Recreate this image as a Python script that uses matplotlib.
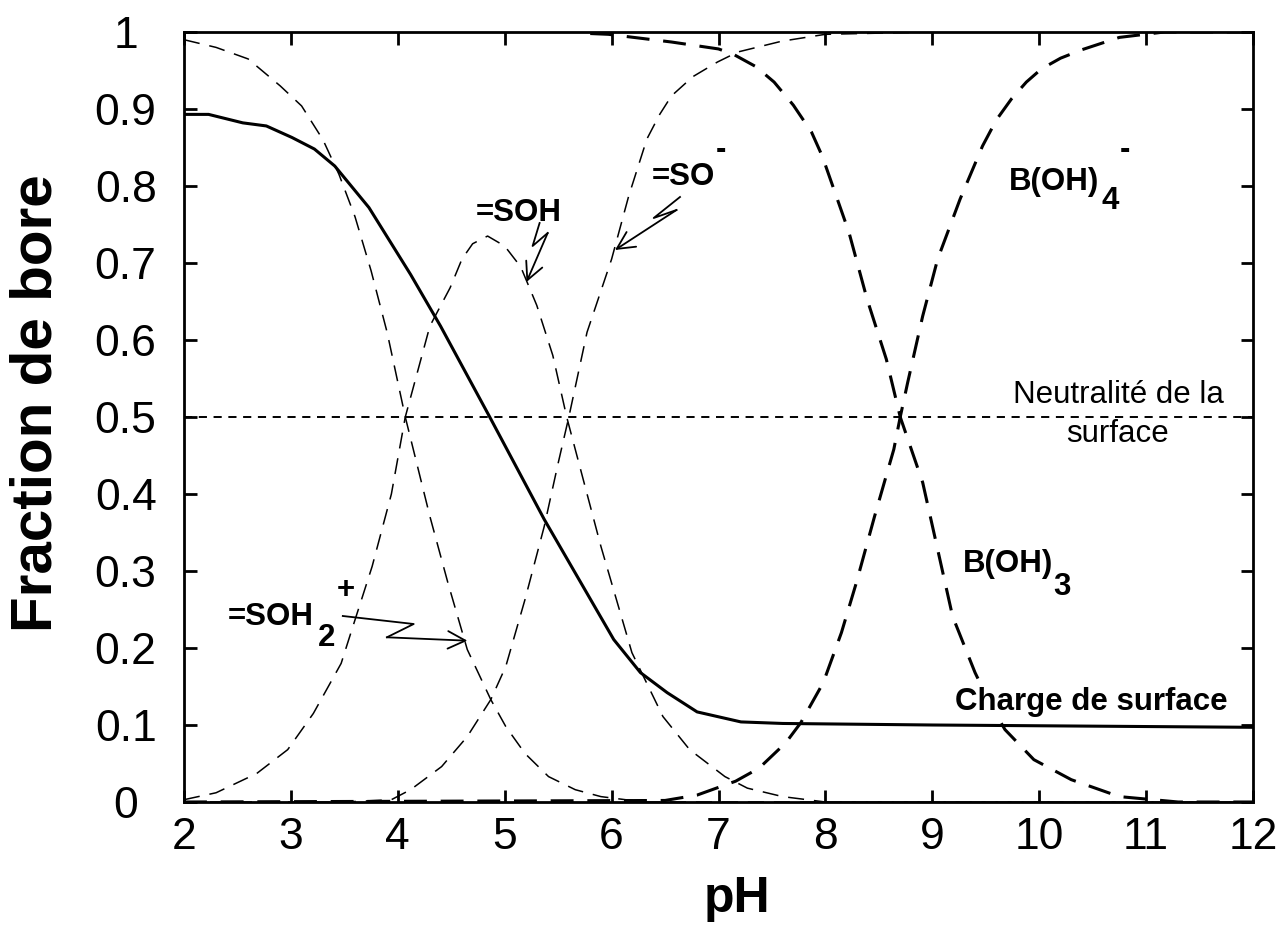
import matplotlib
matplotlib.use("Agg")
import matplotlib.pyplot as plt
from matplotlib.lines import Line2D
from matplotlib.patches import FancyArrowPatch

plt.rcParams['font.family'] = ['Liberation Sans', 'DejaVu Sans']

# ---------------- data ----------------
ph_soh2 = [2.0, 2.3, 2.6, 2.9, 3.1, 3.3, 3.45, 3.6, 3.75, 3.9, 4.07, 4.3, 4.47,
           4.65, 4.87, 5.01, 5.19, 5.41, 5.66, 5.9, 6.3, 7.0, 12.0]
soh2 = [0.99, 0.98, 0.965, 0.93, 0.904, 0.86, 0.815, 0.76, 0.69, 0.61, 0.50, 0.371,
        0.284, 0.198, 0.133, 0.098, 0.063, 0.033, 0.016, 0.007, 0.0, 0.0, 0.0]

ph_soh = [2.0, 2.3, 2.68, 2.97, 3.21, 3.47, 3.58, 3.76, 3.94, 4.07, 4.3, 4.49, 4.6,
          4.7, 4.84, 5.0, 5.15, 5.3, 5.45, 5.58, 5.9, 6.19, 6.48, 6.73, 7.06, 7.27,
          7.6, 8.0, 12.0]
soh = [0.003, 0.012, 0.037, 0.068, 0.115, 0.18, 0.228, 0.306, 0.40, 0.50, 0.618,
       0.668, 0.705, 0.725, 0.735, 0.722, 0.695, 0.645, 0.58, 0.50, 0.332, 0.194,
       0.111, 0.068, 0.033, 0.018, 0.007, 0.0, 0.0]

ph_so = [2.0, 3.5, 3.94, 4.12, 4.41, 4.65, 4.87, 5.01, 5.19, 5.37, 5.5, 5.6, 5.77,
         6.0, 6.16, 6.33, 6.45, 6.56, 6.76, 6.99, 7.18, 7.59, 8.0, 9.0, 12.0]
so = [0.0, 0.0, 0.003, 0.016, 0.046, 0.085, 0.133, 0.176, 0.263, 0.358, 0.44, 0.50,
      0.61, 0.705, 0.787, 0.861, 0.893, 0.917, 0.942, 0.961, 0.974, 0.988, 0.997,
      1.0, 1.0]

ph_boh3 = [5.8, 5.97, 6.56, 7.0, 7.14, 7.35, 7.52, 7.7, 7.87, 7.97, 8.22, 8.39,
           8.57, 8.70, 8.91, 9.05, 9.19, 9.40, 9.55, 9.68, 9.95, 10.30, 10.75,
           11.3, 12.0]
boh3 = [0.998, 0.997, 0.987, 0.978, 0.971, 0.955, 0.935, 0.905, 0.87, 0.839, 0.74,
        0.653, 0.575, 0.50, 0.415, 0.328, 0.241, 0.168, 0.125, 0.094, 0.055, 0.029,
        0.007, 0.0, 0.0]

ph_boh4 = [2.0, 6.5, 6.8, 7.16, 7.38, 7.63, 7.77, 7.98, 8.15, 8.29, 8.46, 8.64,
           8.70, 8.77, 8.91, 9.05, 9.26, 9.47, 9.6, 9.74, 9.88, 10.02, 10.2, 10.40,
           10.75, 11.17, 12.0]
boh4 = [0.0, 0.002, 0.009, 0.027, 0.044, 0.077, 0.103, 0.155, 0.22, 0.285, 0.371,
        0.458, 0.50, 0.545, 0.631, 0.705, 0.783, 0.852, 0.886, 0.913, 0.935, 0.952,
        0.966, 0.977, 0.993, 1.0, 1.0]

ph_charge = [2.0, 2.23, 2.55, 2.77, 3.01, 3.22, 3.41, 3.73, 4.12, 4.40, 4.86, 5.37,
             6.02, 6.27, 6.52, 6.80, 7.21, 7.6, 9.0, 12.0]
charge = [0.893, 0.893, 0.882, 0.878, 0.863, 0.848, 0.826, 0.772, 0.685, 0.618, 0.50,
          0.367, 0.211, 0.168, 0.142, 0.117, 0.104, 0.102, 0.100, 0.097]

neutral_level = 0.5

x_ticks = [2, 3, 4, 5, 6, 7, 8, 9, 10, 11, 12]
x_tick_labels = ['2', '3', '4', '5', '6', '7', '8', '9', '10', '11', '12']
y_ticks = [0, 0.1, 0.2, 0.3, 0.4, 0.5, 0.6, 0.7, 0.8, 0.9, 1.0]
y_tick_labels = ['0', '0.1', '0.2', '0.3', '0.4', '0.5', '0.6', '0.7', '0.8', '0.9', '1']

# ---------------- layout ----------------
W, H = 1281, 927
fig = plt.figure(figsize=(W / 100, H / 100), dpi=100, facecolor='white')
L, R, T, B = 184, 1253, 32, 802
ax = fig.add_axes([L / W, 1 - B / H, (R - L) / W, (B - T) / H])


def P(x, y):
    """pixel (from top-left) -> figure fraction"""
    return (x / W, 1 - y / H)


thin = dict(color='black', lw=1.1, linestyle=(0, (10.5, 6.5)))
thick = dict(color='black', lw=2.2, linestyle=(0, (7.5, 4.5)))

ax.plot(ph_soh2, soh2, **thin)
ax.plot(ph_soh, soh, **thin)
ax.plot(ph_so, so, **thin)
ax.plot(ph_boh3, boh3, **thick)
ax.plot(ph_boh4, boh4, **thick)
ax.plot(ph_charge, charge, color='black', lw=2.2, solid_joinstyle='round')
ax.axhline(neutral_level, color='black', lw=1.4, linestyle=(0, (4.2, 3.4)))

ax.set_xlim(2, 12)
ax.set_ylim(0, 1)
ax.set_xticks(x_ticks)
ax.set_xticklabels(x_tick_labels)
ax.set_yticks(y_ticks)
ax.set_yticklabels(y_tick_labels)
ax.tick_params(axis='both', which='major', direction='in', length=9, width=2,
               top=True, right=True, labelsize=32)
ax.tick_params(axis='x', pad=11)
ax.tick_params(axis='y', pad=42)
for lbl in ax.get_yticklabels():
    lbl.set_horizontalalignment('center')
for s in ax.spines.values():
    s.set_linewidth(2)

fig.text(*P(737, 912), 'pH', fontsize=36, fontweight='bold', ha='center', va='baseline')
fig.text(*P(37, 403), 'Fraction de bore', fontsize=42, fontweight='bold',
         rotation=90, ha='center', va='center')

lab = dict(fontsize=22.5, fontweight='bold', color='black')
# =SOH
fig.text(*P(476, 221), '=SOH', ha='left', va='baseline', **lab)
# =SO-
fig.text(*P(652, 185), '=SO', ha='left', va='baseline', **lab)
fig.text(*P(720.5, 150), '-', ha='center', va='center', **lab)
# B(OH)4-
fig.text(*P(1009, 190), 'B(OH)', ha='left', va='baseline', **lab)
fig.text(*P(1110, 201), '4', ha='center', va='center', **lab)
fig.text(*P(1125, 150), '-', ha='center', va='center', **lab)
# B(OH)3
fig.text(*P(963, 572), 'B(OH)', ha='left', va='baseline', **lab)
fig.text(*P(1062, 587), '3', ha='center', va='center', **lab)
# =SOH2+
fig.text(*P(228, 625), '=SOH', ha='left', va='baseline', **lab)
fig.text(*P(326.5, 638.5), '2', ha='center', va='center', **lab)
fig.text(*P(345.5, 590.5), '+', ha='center', va='center', **lab)
# Charge de surface (masks the dashed curve behind it, as in the reference)
fig.text(*P(955, 710), 'Charge de surface', ha='left', va='baseline',
         bbox=dict(facecolor='white', edgecolor='none', pad=1), **lab)
# Neutralite
fig.text(*P(1118, 403), 'Neutralité de la', ha='center', va='baseline', fontsize=22.5)
fig.text(*P(1118, 442), 'surface', ha='center', va='baseline', fontsize=22.5)

# zigzag pointer arrows (pixel paths)
arrows = [
    [(539.6, 223), (532.6, 246), (547.7, 233), (526.5, 282)],   # =SOH
    [(680, 197), (653.7, 218), (676.5, 210), (615, 250)],       # =SO-
    [(342.8, 616), (413.7, 624), (386.9, 637.3), (467.4, 640.7)],  # =SOH2+
]
for path in arrows:
    xs = [P(x, y)[0] for x, y in path[:-1]]
    ys = [P(x, y)[1] for x, y in path[:-1]]
    fig.add_artist(Line2D(xs, ys, color='black', lw=1.3, transform=fig.transFigure))
    fig.add_artist(FancyArrowPatch(
        P(*path[-2]), P(*path[-1]), transform=fig.transFigure,
        arrowstyle='->,head_length=0.7,head_width=0.35', mutation_scale=18,
        color='black', lw=1.3, shrinkA=0, shrinkB=0))

fig.savefig('out.png', dpi=100, facecolor='white')
